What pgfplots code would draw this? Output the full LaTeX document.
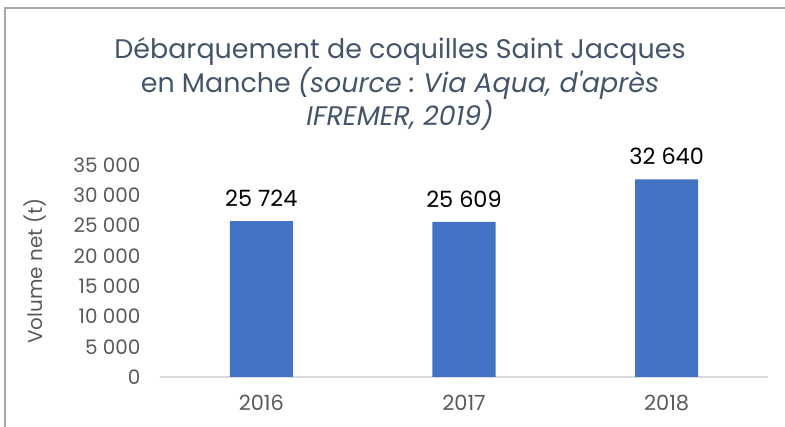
\documentclass[border=0pt]{standalone}
\usepackage{fontspec}
\setmainfont{Poppins}
\usepackage{pgfplots}
\pgfplotsset{compat=1.18}
\definecolor{barblue}{HTML}{4472C4}
\definecolor{ticktxt}{HTML}{595959}
\definecolor{titletxt}{HTML}{44546A}
\definecolor{axisgray}{HTML}{D9D9D9}
\definecolor{framegray}{HTML}{A6A6A6}
\frenchspacing

\begin{document}
\begin{tikzpicture}
\useasboundingbox (-160bp,-50bp) rectangle (625bp,377bp);
\draw[framegray, line width=1.5bp] (-155bp,-50bp) -- (-155bp,369bp) -- (625bp,369bp);
\begin{axis}[
    at={(0,0)}, anchor=south west,
    scale only axis,
    width=608bp, height=212bp,
    ybar, bar width=63bp,
    xmin=-0.5, xmax=2.5,
    ymin=0, ymax=35000,
    xtick={0,1,2},
    xticklabels={2016,2017,2018},
    ytick={0,5000,...,35000},
    scaled y ticks=false,
    /pgf/number format/assume math mode=true,
    /pgf/number format/1000 sep={\ },
    axis x line*=bottom, axis y line*=left,
    y axis line style={draw=none},
    x axis line style={draw=axisgray, line width=1.5bp},
    major tick length=0pt,
    ticklabel style={font=\fontsize{20}{22}\selectfont, text=ticktxt},
    yticklabel style={xshift=-16bp},
    xticklabel style={yshift=-15bp, font=\fontsize{21}{22}\selectfont},
    ylabel={Volume net (t)},
    ylabel style={at={(axis description cs:-0.206,0.5)}, anchor=center,
        font=\fontsize{20}{22}\selectfont, text=ticktxt},
    nodes near coords,
    nodes near coords style={font=\fontsize{22.5}{24}\selectfont, text=black, yshift=11bp},
]
\addplot[fill=barblue, draw=none] coordinates {(0,25724) (1,25609) (2,32640)};
\end{axis}
\node[align=center, text=titletxt, font=\fontsize{27}{34}\selectfont] at (240bp,293bp)
  {Débarquement de coquilles Saint Jacques\\
   en Manche \textit{(source : Via Aqua, d\textquotesingle après}\\
   \textit{IFREMER, 2019)}};
\end{tikzpicture}
\end{document}
